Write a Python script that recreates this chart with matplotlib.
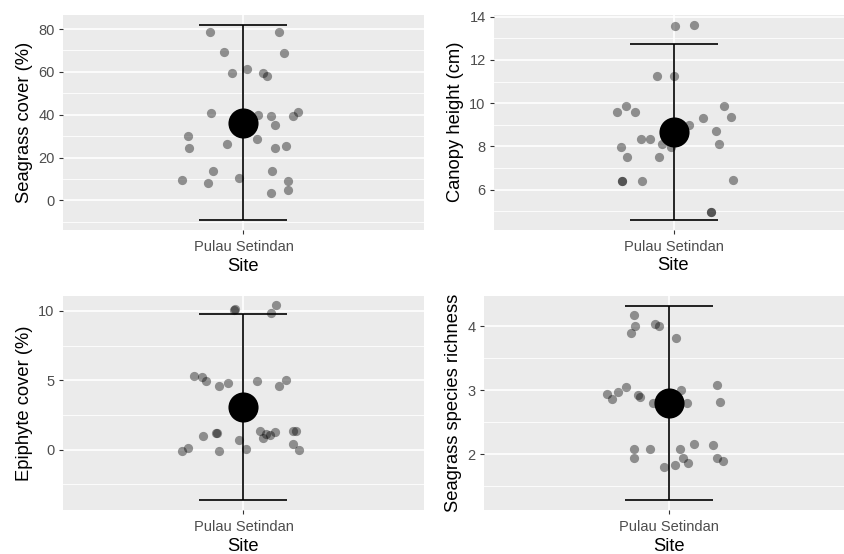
import numpy as np
from matplotlib import pyplot as plt

site = "Pulau Setindan"

cover_x = [-0.110, 0.118, -0.065, 0.135, -0.037, 0.012, 0.065, 0.078, -0.108, 0.049,
           0.093, 0.104, 0.166, 0.182, -0.186, -0.182, -0.054, 0.046, 0.104, 0.142,
           -0.103, 0.095, -0.203, -0.118, -0.014, 0.149, 0.090, 0.147]
cover_y = [78.4, 78.4, 69.4, 68.6, 59.5, 61.3, 59.3, 58.1, 40.9, 39.7,
           39.2, 35.2, 39.2, 41.4, 30.2, 24.6, 26.5, 28.5, 24.4, 25.4,
           13.9, 13.9, 9.3, 8.1, 10.6, 8.9, 3.6, 4.7]

canopy_x = [0.006, 0.069, -0.056, 0.001, -0.190, -0.158, -0.128, 0.170, 0.097, 0.191,
            0.051, 0.143, -0.107, -0.078, -0.040, 0.152, -0.174, -0.154, -0.049, -0.007,
            -0.171, -0.171, -0.105, 0.198, 0.127, 0.127]
canopy_y = [13.57, 13.60, 11.27, 11.24, 9.57, 9.85, 9.61, 9.85, 9.31, 9.34,
            9.00, 8.72, 8.32, 8.35, 8.13, 8.10, 7.99, 7.51, 7.51, 7.96,
            6.40, 6.41, 6.40, 6.46, 4.97, 4.98]

epi_x = [-0.032, -0.027, 0.108, 0.090, -0.165, -0.137, -0.125, -0.082, -0.050, 0.046,
         0.140, 0.118, -0.134, -0.091, -0.088, -0.016, 0.054, 0.065, 0.076, 0.089,
         0.104, 0.165, 0.174, 0.163, 0.185, -0.204, -0.185, -0.081, 0.007]
epi_y = [10.05, 10.12, 10.41, 9.86, 5.29, 5.24, 4.98, 4.62, 4.81, 4.98,
         5.05, 4.62, 1.01, 1.18, 1.18, 0.72, 1.32, 0.84, 1.15, 1.08,
         1.27, 1.35, 1.35, 0.38, -0.02, -0.12, 0.14, -0.07, 0.07]

rich_x = [-0.113, -0.110, -0.123, -0.045, -0.031, 0.024, -0.201, -0.186, -0.165, -0.138,
          -0.099, -0.093, -0.053, 0.039, 0.059, 0.157, 0.164, -0.114, -0.115, -0.062,
          -0.016, 0.018, 0.036, 0.045, 0.060, 0.082, 0.143, 0.155, 0.176]
rich_y = [4.18, 4.00, 3.90, 4.04, 4.01, 3.81, 2.94, 2.86, 2.98, 3.05,
          2.92, 2.90, 2.80, 3.00, 2.80, 3.08, 2.82, 2.08, 1.94, 2.08,
          1.80, 1.84, 2.08, 1.95, 1.86, 2.16, 2.15, 1.95, 1.89]

# summary: mean and half-width of the error bar
means = [36.3, 8.65, 3.08, 2.80]
spread = [45.6, 4.07, 6.73, 1.52]

ylabels = ["Seagrass cover (%)", "Canopy height (cm)", "Epiphyte cover (%)", "Seagrass species richness"]
yticks = [[0, 20, 40, 60, 80], [6, 8, 10, 12, 14], [0, 5, 10], [2, 3, 4]]
yminor = [[-10, 10, 30, 50, 70], [5, 7, 9, 11, 13], [-2.5, 2.5, 7.5], [1.5, 2.5, 3.5]]
ylims = [(-13.85, 86.54), (4.15, 14.08), (-4.33, 11.08), (1.135, 4.474)]

# panel boxes in pixels: x0, x1, y0(top), y1(bottom)
boxes = [(63, 424, 15, 230), (494, 853, 15, 229.5), (63, 424, 296, 509.7), (484, 854, 296, 509.7)]

W, H = 844, 554
plt.rcParams['font.family'] = ['Liberation Sans', 'DejaVu Sans']


def draw_panel(ax, xs, ys, mean, sd, ylabel, ticks, minor, ylim):
    ax.set_facecolor('#EBEBEB')
    for s in ax.spines.values():
        s.set_visible(False)
    for v in minor:
        ax.axhline(v, color='white', lw=0.6, zorder=0)
    for v in ticks:
        ax.axhline(v, color='white', lw=1.2, zorder=0)
    ax.axvline(1, color='white', lw=1.2, zorder=0)

    ax.scatter(1 + np.array(xs), ys, s=44, color='black', alpha=0.4, linewidths=0, zorder=2)
    ax.errorbar([1], [mean], yerr=[sd], fmt='none', ecolor='black', elinewidth=1.2,
                capsize=32, capthick=1.2, zorder=3)
    ax.scatter([1], [mean], s=470, color='black', linewidths=0, zorder=4)

    ax.set_xlim(0.4, 1.6)
    ax.set_ylim(*ylim)
    ax.set_xticks([1])
    ax.set_xticklabels([site])
    ax.set_yticks(ticks)
    ax.tick_params(axis='both', colors='#333333', length=3, width=0.8, labelsize=10.5,
                   labelcolor='#4D4D4D', pad=3)
    ax.tick_params(axis='x', pad=4.5)
    ax.set_xlabel("Site", fontsize=13.2, labelpad=2.5)
    ax.set_ylabel(ylabel, fontsize=13.2, labelpad=4)


fig = plt.figure(figsize=(W / 100, H / 100), dpi=100)
data = [(cover_x, cover_y), (canopy_x, canopy_y), (epi_x, epi_y), (rich_x, rich_y)]
for i in range(4):
    x0, x1, y0, y1 = boxes[i]
    ax = fig.add_axes([x0 / W, 1 - y1 / H, (x1 - x0) / W, (y1 - y0) / H])
    draw_panel(ax, data[i][0], data[i][1], means[i], spread[i], ylabels[i],
               yticks[i], yminor[i], ylims[i])

fig.savefig("out.png", dpi=100)
